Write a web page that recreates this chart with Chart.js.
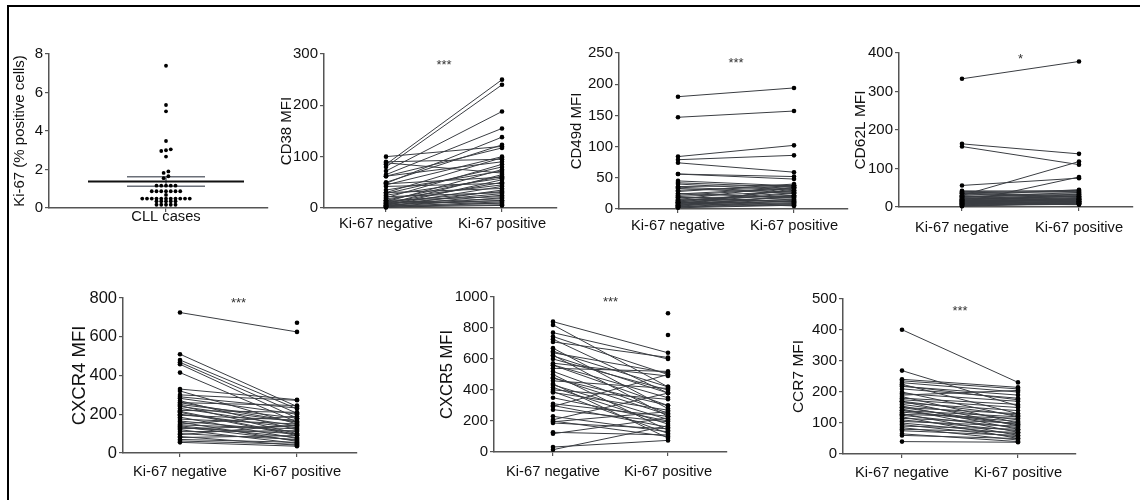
<!DOCTYPE html>
<html><head><meta charset="utf-8">
<script src="https://cdn.jsdelivr.net/npm/chart.js@4.4.1/dist/chart.umd.min.js"></script>
<style>
html,body{margin:0;padding:0;background:#fff;}
#fig{position:relative;width:1140px;height:500px;overflow:hidden;background:#fff;}
#frame{position:absolute;left:7px;top:5px;width:1200px;height:600px;border-left:2px solid #000;border-top:2px solid #000;}
canvas{position:absolute;}
</style></head><body><div id="fig"><div id="frame"></div></div>
<script>
// ---------- DATA ----------
const kiCategory = ['CLL cases'];
const kiValues = [7.39,5.35,5.02,3.48,3.05,3.0,2.96,2.67,1.9,1.82,1.65,1.55,
  1.16,1.16,1.16,1.16,1.16,
  0.87,0.87,0.87,0.87,0.87,0.87,0.87,
  0.68,
  0.49,0.49,0.49,0.49,0.49,0.49,0.49,0.49,0.49,0.49,0.49,
  0.35,0.35,0.35,0.35,0.35,
  0.17,0.17,0.17,0.17,0.17];
const kiMean = 1.38;
const kiSem = 0.245;
const kiYTicks = [0,2,4,6,8];

const pairCategories = ['Ki-67 negative','Ki-67 positive'];

const cd38Neg = [85,80,72,65,48,50,100,62,45,30,90,62,20,28,12,35,88,8,15,25,5,10,42,18,6,30,3,12,22,8,4,15,2,10,6,3,1,14,5,2,9,47];
const cd38Pos = [250,240,188,155,138,123,120,117,100,98,95,90,85,80,75,72,68,65,62,58,55,50,48,45,42,38,35,32,30,28,25,22,20,18,15,12,10,8,6,5,14,60];

const cd49dNeg = [180,147,84,79,74,56,56,45,42,40,36,33,30,22,20,18,15,14,12,11,10,9,8,7,6,5,4,3,2,25,16,13,8,6,11,4,28,19,10,3,35,24];
const cd49dPos = [194,157,102,86,59,52,48,37,35,30,38,25,36,33,28,20,38,22,18,30,15,25,12,20,10,35,8,14,6,18,12,26,32,16,9,22,40,11,5,7,27,34];

const cd62lNeg = [333,164,157,56,30,12,42,38,35,32,30,28,26,24,22,20,18,17,16,15,14,12,11,10,9,8,7,6,5,4,36,21,19,13,25,3,40,8,16,27,2,18];
const cd62lPos = [378,138,110,75,118,78,40,36,30,25,45,22,33,20,18,28,15,24,12,20,17,10,14,22,8,13,16,11,9,7,26,32,14,19,38,12,43,6,21,15,10,28];

const cxcr4Neg = [725,null,510,480,468,458,415,330,320,300,290,282,270,260,250,245,240,230,220,210,200,195,185,175,165,160,150,145,140,130,125,120,110,100,95,85,80,70,62,55,135,260,215];
const cxcr4Pos = [625,672,240,228,205,180,160,275,150,272,232,200,120,245,180,100,160,140,210,90,130,170,75,150,110,60,190,125,80,100,140,50,115,70,145,40,90,55,45,35,65,160,95];

const cxcr5Neg = [841,820,770,745,728,710,670,640,625,600,573,562,540,520,500,476,459,433,416,401,390,384,311,300,294,273,208,200,195,187,127,118,32,15,null,null,650,560,440,350,230,620,480];
const cxcr5Pos = [640,420,600,500,380,610,280,510,230,400,490,350,520,250,140,300,410,210,180,340,120,270,230,160,500,195,380,100,260,150,110,220,75,170,895,755,420,300,90,200,130,380,240];

const ccr7Neg = [401,269,241,236,230,225,218,210,200,195,185,180,175,170,165,160,155,150,145,140,135,130,128,125,120,115,110,105,100,95,90,85,80,75,65,60,40,190,140,220,170,150];
const ccr7Pos = [231,155,215,210,200,130,190,180,120,170,100,160,150,90,140,110,80,130,70,95,105,60,115,85,50,100,75,90,65,55,80,45,70,60,40,50,38,205,120,175,125,95];

// ---------- LAYOUT / STYLE ----------
Chart.defaults.font.family = '"Liberation Sans", Arial, Helvetica, sans-serif';
Chart.defaults.color = '#111';
const AXIS = '#555';
const fig = document.getElementById('fig');

const sigPlugin = {
  id: 'sig',
  afterDatasetsDraw(chart, args, opts) {
    if (!opts || !opts.text) return;
    const ctx = chart.ctx;
    const x = chart.scales.x.getPixelForValue(0.5) + (opts.dx || 0);
    ctx.save();
    ctx.font = '13px "Liberation Sans", Arial, sans-serif';
    ctx.fillStyle = '#333';
    ctx.textAlign = 'center';
    ctx.textBaseline = 'alphabetic';
    ctx.fillText(opts.text, x, opts.y);
    ctx.restore();
  }
};

function makeCanvas(b) {
  const lh = b.titleFont * 1.2;
  const left = Math.round(b.titleX - lh / 2);
  const top = b.top - 15;
  const w = b.right - left + 6;
  const h = (b.bottom - top) + 40;
  const c = document.createElement('canvas');
  c.width = w; c.height = h;
  c.style.left = left + 'px'; c.style.top = top + 'px';
  c.style.width = w + 'px'; c.style.height = h + 'px';
  fig.appendChild(c);
  return { c, yW: b.axisX - left, left, top };
}

function scalesFor(b, cv, x, y) {
  return {
    x: Object.assign({
      type: 'linear',
      afterFit: s => { s.height = 40; },
      grid: { drawOnChartArea: false, tickLength: 4, color: AXIS, lineWidth: 1.2 },
      border: { color: AXIS, width: 1.5 },
      ticks: { font: { size: b.xFont }, color: '#111', padding: b.labOff - 4, maxRotation: 0, minRotation: 0, autoSkip: false }
    }, x),
    y: Object.assign({
      type: 'linear',
      afterFit: s => { s.width = cv.yW; },
      grid: { drawOnChartArea: false, tickLength: 4, color: AXIS, lineWidth: 1.2 },
      border: { color: AXIS, width: 1.5 },
      title: { display: true, text: b.title, font: { size: b.titleFont, lineHeight: 1.2 }, color: '#111', padding: 0 },
      ticks: { font: { size: b.tickFont }, color: '#111', padding: 2 }
    }, y)
  };
}

// ---------- Panel 1: Ki-67 dot plot ----------
(function () {
  const b = { axisX: 49, top: 54, bottom: 208, right: 268, titleX: 20, titleFont: 15, tickFont: 15, xFont: 14.7, labOff: 0, title: 'Ki-67 (% positive cells)', centerX: 166 };
  const cv = makeCanvas(b);
  // beeswarm-like rows computed from values
  const sorted = kiValues.slice().sort((a, c) => a - c);
  const groups = [];
  sorted.forEach(v => {
    const g = groups[groups.length - 1];
    if (g && v - g[0] < 0.12) g.push(v); else groups.push([v]);
  });
  const spacing = 4.75;
  const pts = [];
  groups.forEach(g => g.forEach((v, i) => pts.push({ x: (i - (g.length - 1) / 2) * spacing, y: v })));
  const xMin = -(b.centerX - b.axisX), xMax = b.right - b.centerX;
  const datasets = [
    { type: 'scatter', data: pts, pointRadius: 1.9, pointBackgroundColor: '#000', pointBorderWidth: 0, clip: false },
    { type: 'line', data: [{ x: -78, y: kiMean }, { x: 78, y: kiMean }], borderColor: '#111', borderWidth: 2, pointRadius: 0, clip: false },
    { type: 'line', data: [{ x: -39, y: kiMean + kiSem }, { x: 39, y: kiMean + kiSem }], borderColor: '#6a6f78', borderWidth: 1.5, pointRadius: 0, clip: false },
    { type: 'line', data: [{ x: -39, y: kiMean - kiSem }, { x: 39, y: kiMean - kiSem }], borderColor: '#6a6f78', borderWidth: 1.5, pointRadius: 0, clip: false },
    { type: 'line', data: [{ x: 0, y: kiMean - kiSem }, { x: 0, y: kiMean + kiSem }], borderColor: '#6a6f78', borderWidth: 1.5, pointRadius: 0, clip: false }
  ];
  new Chart(cv.c, {
    type: 'scatter',
    data: { datasets },
    options: {
      responsive: false, animation: false, events: [],
      layout: { padding: { top: 15, right: 6, left: 0, bottom: 0 } },
      plugins: { legend: { display: false }, tooltip: { enabled: false } },
      scales: scalesFor(b, cv,
        { min: xMin, max: xMax, afterBuildTicks: s => { s.ticks = [{ value: 0 }]; }, ticks: { font: { size: b.xFont }, color: '#111', padding: b.labOff - 4, maxRotation: 0, minRotation: 0, autoSkip: false, callback: () => kiCategory[0] } },
        { min: 0, max: 8, afterBuildTicks: s => { s.ticks = kiYTicks.map(v => ({ value: v })); }, ticks: { font: { size: b.tickFont }, color: '#111', padding: 2, callback: v => String(v) } })
    }
  });
})();

// ---------- Paired panels ----------
const panels = [
  { title: 'CD38 MFI', neg: cd38Neg, pos: cd38Pos, yMax: 300, yStep: 100, sig: '***',
    axisX: 324, top: 54, bottom: 208, right: 557, titleX: 287, negX: 386, posX: 502, labOff: 7, sigY: 62, titleFont: 15, tickFont: 15, xFont: 14.7 },
  { title: 'CD49d MFI', neg: cd49dNeg, pos: cd49dPos, yMax: 250, yStep: 50, sig: '***',
    axisX: 619, top: 53, bottom: 209, right: 848, titleX: 577, negX: 678, posX: 794, labOff: 8, sigY: 60, titleFont: 15, tickFont: 15, xFont: 14.7 },
  { title: 'CD62L MFI', neg: cd62lNeg, pos: cd62lPos, yMax: 400, yStep: 100, sig: '*',
    axisX: 899, top: 53, bottom: 207, right: 1133, titleX: 860, negX: 962, posX: 1079, labOff: 12, sigY: 56, titleFont: 15.5, tickFont: 15, xFont: 14.7 },
  { title: 'CXCR4 MFI', neg: cxcr4Neg, pos: cxcr4Pos, yMax: 800, yStep: 200, sig: '***',
    axisX: 123, top: 298, bottom: 453, right: 357, titleX: 80, negX: 180, posX: 297, labOff: 10, sigY: 300, titleFont: 18.5, tickFont: 16.5, xFont: 14.7 },
  { title: 'CXCR5 MFI', neg: cxcr5Neg, pos: cxcr5Pos, yMax: 1000, yStep: 200, sig: '***',
    axisX: 494, top: 297, bottom: 452, right: 727, titleX: 448, negX: 553, posX: 668, labOff: 11, sigY: 299, titleFont: 16.5, tickFont: 15, xFont: 14.7 },
  { title: 'CCR7 MFI', neg: ccr7Neg, pos: ccr7Pos, yMax: 500, yStep: 100, sig: '***',
    axisX: 843, top: 299, bottom: 454, right: 1076, titleX: 798, negX: 902, posX: 1018, labOff: 10, sigY: 308, titleFont: 15.5, tickFont: 15, xFont: 14.7 }
];

panels.forEach(p => {
  const cv = makeCanvas(p);
  const unit = p.posX - p.negX;
  const xMin = -(p.negX - p.axisX) / unit;
  const xMax = 1 + (p.right - p.posX) / unit;
  const allPts = [];
  const lines = [];
  p.neg.forEach((n, i) => {
    const q = p.pos[i];
    if (n !== null) allPts.push({ x: 0, y: n });
    if (q !== null) allPts.push({ x: 1, y: q });
    if (n !== null && q !== null) {
      lines.push({ type: 'line', data: [{ x: 0, y: n }, { x: 1, y: q }], borderColor: '#3a3d42', borderWidth: 1, pointRadius: 0, clip: false });
    }
  });
  const datasets = [{ type: 'scatter', data: allPts, pointRadius: 2.3, pointBackgroundColor: '#000', pointBorderWidth: 0, clip: false }].concat(lines);
  new Chart(cv.c, {
    type: 'scatter',
    data: { datasets },
    options: {
      responsive: false, animation: false, events: [],
      layout: { padding: { top: 15, right: 6, left: 0, bottom: 0 } },
      plugins: { legend: { display: false }, tooltip: { enabled: false },
        sig: { text: p.sig, y: p.sigY - cv.top + 7.4 } },
      scales: scalesFor(p, cv,
        { min: xMin, max: xMax, afterBuildTicks: s => { s.ticks = [{ value: 0 }, { value: 1 }]; },
          ticks: { font: { size: p.xFont }, color: '#111', padding: p.labOff - 4, maxRotation: 0, minRotation: 0, autoSkip: false, callback: v => pairCategories[Math.round(v)] } },
        { min: 0, max: p.yMax, ticks: { stepSize: p.yStep, font: { size: p.tickFont }, color: '#111', padding: 2, callback: v => String(v) } })
    },
    plugins: [sigPlugin]
  });
});
</script>
</body></html>
